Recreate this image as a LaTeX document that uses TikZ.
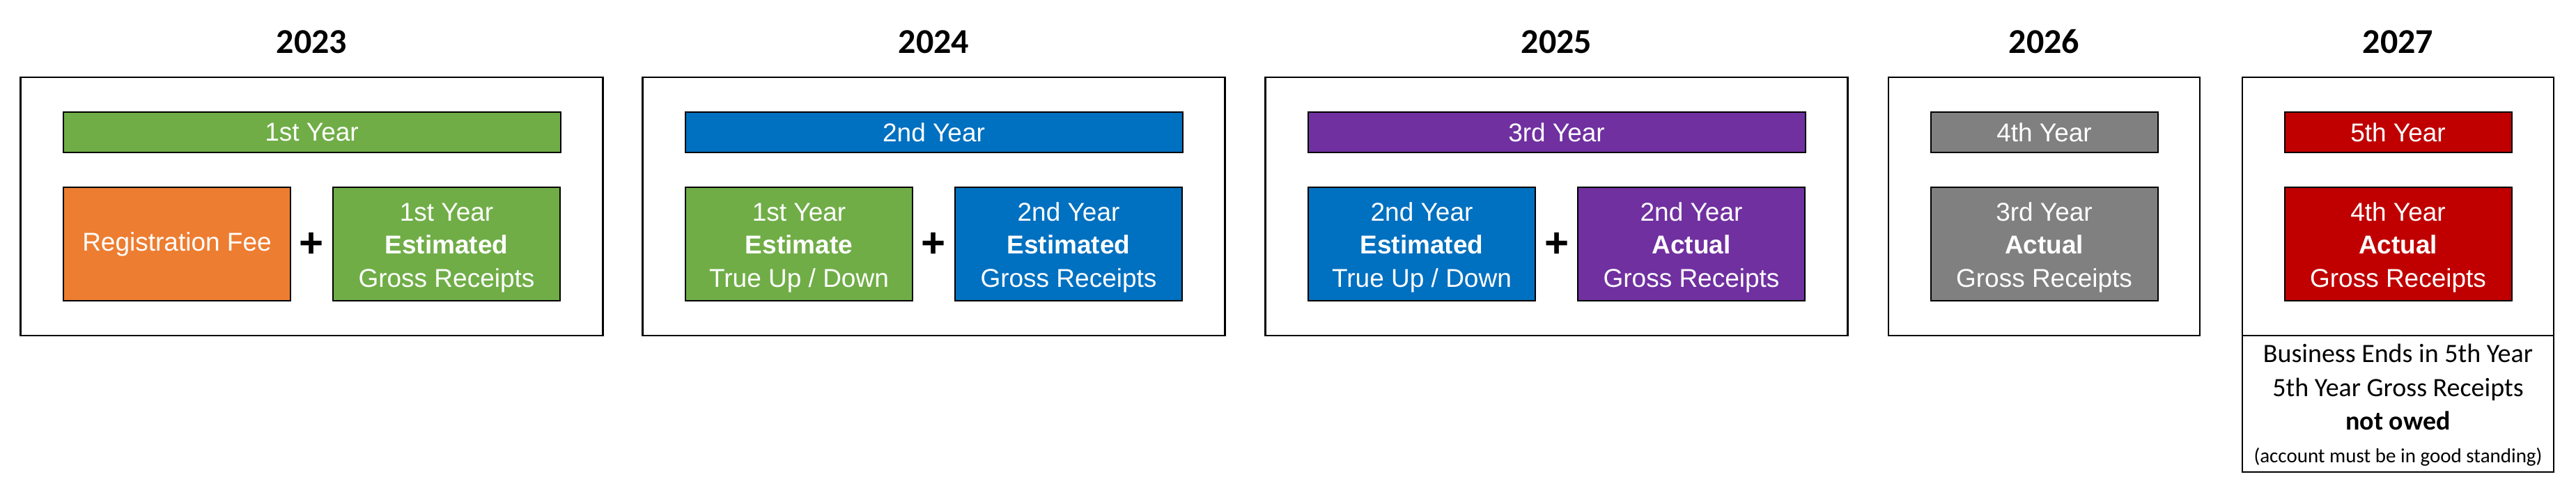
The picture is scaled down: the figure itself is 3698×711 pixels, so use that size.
\documentclass[tikz,border=0pt]{standalone}
\usepackage{fontspec}
\setmainfont{Liberation Sans}
\newfontfamily\calibri{Carlito}
\definecolor{yrgreen}{HTML}{70AD47}
\definecolor{yrorange}{HTML}{ED7D31}
\definecolor{yrblue}{HTML}{0070C0}
\definecolor{yrpurple}{HTML}{7030A0}
\definecolor{yrgray}{HTML}{808080}
\definecolor{yrred}{HTML}{C00000}
\newcommand\topgap{\rule{0pt}{18.3pt}}
\tikzset{
	panel/.style={draw, line width=1.2pt, minimum width=418pt, minimum height=185.5pt, inner sep=0pt},
	narrowpanel/.style={panel, minimum width=223.5pt},
	bar/.style={draw, line width=1pt, fill=#1, text=white, minimum width=357pt, minimum height=29pt, inner sep=0pt, font=\fontsize{18.5}{23.75}\selectfont},
	shortbar/.style={bar=#1, minimum width=163pt},
	cell/.style={draw, line width=1pt, fill=#1, text=white, minimum width=163pt, minimum height=81.5pt, inner sep=0pt, align=center, font=\fontsize{18.5}{23.75}\selectfont},
	yearlbl/.style={font=\calibri\bfseries\fontsize{25}{30}\selectfont},
	plussign/.style={font=\bfseries\fontsize{30}{30}\selectfont, inner sep=0pt}
}
\begin{document}
\begin{tikzpicture}[x=0.5pt,y=-0.5pt]
		\useasboundingbox (0,0) rectangle (3698,711);
		
		\node[yearlbl] (y23) at (447.5,60) {2023};
		\node[panel] (p23) at (447.5,296.5) {};
		\node[bar=yrgreen] (h23) at (447.5,190) {1st Year};
		\node[cell=yrorange] (a23) at (254,350.5) {Registration Fee};
		\node[plussign] (s23) at (447.5,352) {+};
		\node[cell=yrgreen] (b23) at (641,350.5) {\topgap 1st Year\\\textbf{Estimated}\\Gross Receipts};
		
		\node[yearlbl] (y24) at (1340.5,60) {2024};
		\node[panel] (p24) at (1340.5,296.5) {};
		\node[bar=yrblue] (h24) at (1340.5,190) {2nd Year};
		\node[cell=yrgreen] (a24) at (1147,350.5) {\topgap 1st Year\\\textbf{Estimate}\\True Up / Down};
		\node[plussign] (s24) at (1340.5,352) {+};
		\node[cell=yrblue] (b24) at (1534,350.5) {\topgap 2nd Year\\\textbf{Estimated}\\Gross Receipts};
		
		\node[yearlbl] (y25) at (2234.5,60) {2025};
		\node[panel] (p25) at (2234.5,296.5) {};
		\node[bar=yrpurple] (h25) at (2234.5,190) {3rd Year};
		\node[cell=yrblue] (a25) at (2041,350.5) {\topgap 2nd Year\\\textbf{Estimated}\\True Up / Down};
		\node[plussign] (s25) at (2234.5,352) {+};
		\node[cell=yrpurple] (b25) at (2428,350.5) {\topgap 2nd Year\\\textbf{Actual}\\Gross Receipts};
		
		\node[yearlbl] (y26) at (2934.5,60) {2026};
		\node[narrowpanel] (p26) at (2934.5,296.5) {};
		\node[shortbar=yrgray] (h26) at (2934.5,190) {4th Year};
		\node[cell=yrgray] (a26) at (2934.5,350.5) {\topgap 3rd Year\\\textbf{Actual}\\Gross Receipts};
		
		\node[yearlbl] (y27) at (3442.5,60) {2027};
		\node[draw, line width=0.8pt, minimum width=223.5pt, minimum height=98pt, inner sep=0pt] (n27) at (3442.5,580) {};
		\node[align=center, font=\calibri\fontsize{19}{24.25}\selectfont] (t27) at (3442.5,582) {Business Ends in 5th Year\\5th Year Gross Receipts\\\textbf{not owed}\\[-1pt]{\fontsize{14.5}{17}\selectfont(account must be in good standing)}};
		\node[narrowpanel, fill=white] (p27) at (3442.5,296.5) {};
		\node[shortbar=yrred] (h27) at (3442.5,190) {5th Year};
		\node[cell=yrred] (a27) at (3442.5,350.5) {\topgap 4th Year\\\textbf{Actual}\\Gross Receipts};
\end{tikzpicture}
\end{document}
